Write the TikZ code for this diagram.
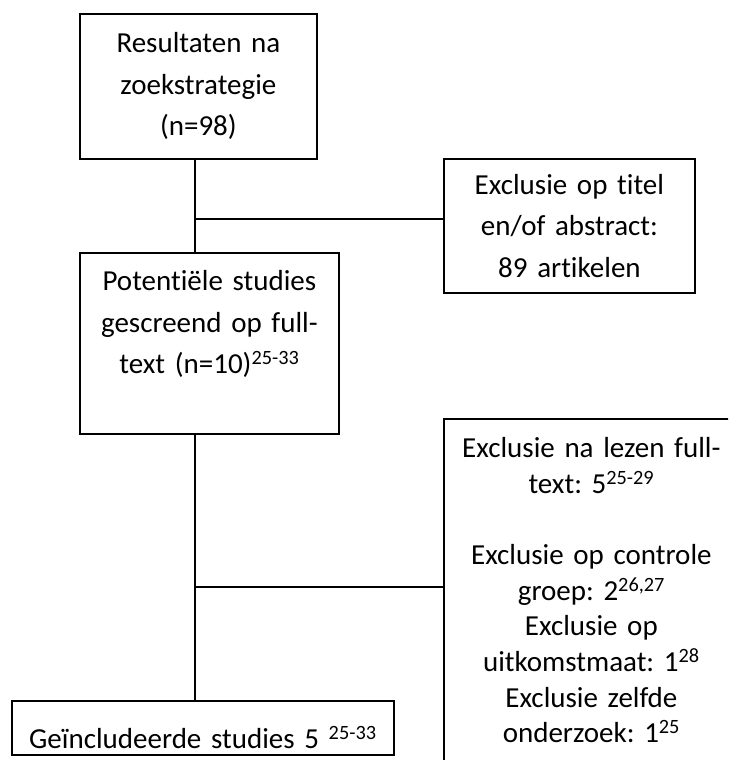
\documentclass[tikz,border=0pt]{standalone}
\usepackage{fontspec}
\setmainfont{Carlito}[Ligatures={NoCommon}]
\usepackage{tikz}
\usetikzlibrary{positioning,calc}
\frenchspacing

\begin{document}
\begin{tikzpicture}[x=1pt,y=-1pt,
    box/.style={draw,line width=1.8pt,anchor=north west,align=center,inner xsep=6pt,
        font=\fontsize{29}{41.5}\selectfont},
    link/.style={line width=1.8pt}]
\clip (0,0) rectangle (728,760);

% Boxes
\node[box,minimum width=237pt,minimum height=145pt,text width=225pt] (results) at (79,13)
    {Resultaten na\\zoekstrategie\\(n=98)};
\node[box,minimum width=251pt,minimum height=134pt,text width=239pt] (abstract) at (443,158)
    {Exclusie op titel\\en/of abstract:\\89 artikelen};
\node[box,text width=247pt,inner ysep=17pt,text height=21pt,text depth=126pt] (potential) at (79,252)
    {Potentiële studies\\gescreend op full-\\text (n=10)\textsuperscript{25-33}};
\node[box,text width=283pt,inner ysep=18pt,text height=21pt,text depth=300pt,
    font=\fontsize{29}{35.6}\selectfont] (fulltext) at (443,418)
    {Exclusie na lezen full-\\text: 5\textsuperscript{25-29}\\[35.6pt]
     Exclusie op controle\\groep: 2\textsuperscript{26,27}\\Exclusie op\\
     uitkomstmaat: 1\textsuperscript{28}\\Exclusie zelfde\\onderzoek: 1\textsuperscript{25}};
\node[box,text width=370pt,inner ysep=0pt,text height=48pt,text depth=6pt] (included) at (11,700)
    {Geïncludeerde studies 5 \textsuperscript{25-33}};

% Connectors
\coordinate (split1) at (195,219);
\coordinate (split2) at (195,587);
\draw[link] (results.south -| split1) -- (split1 |- potential.north);
\draw[link] (split1) -- (split1 -| abstract.west);
\draw[link] (split2 |- potential.south) -- (split2 |- included.north);
\draw[link] (split2) -- (split2 -| fulltext.west);
\end{tikzpicture}
\end{document}
